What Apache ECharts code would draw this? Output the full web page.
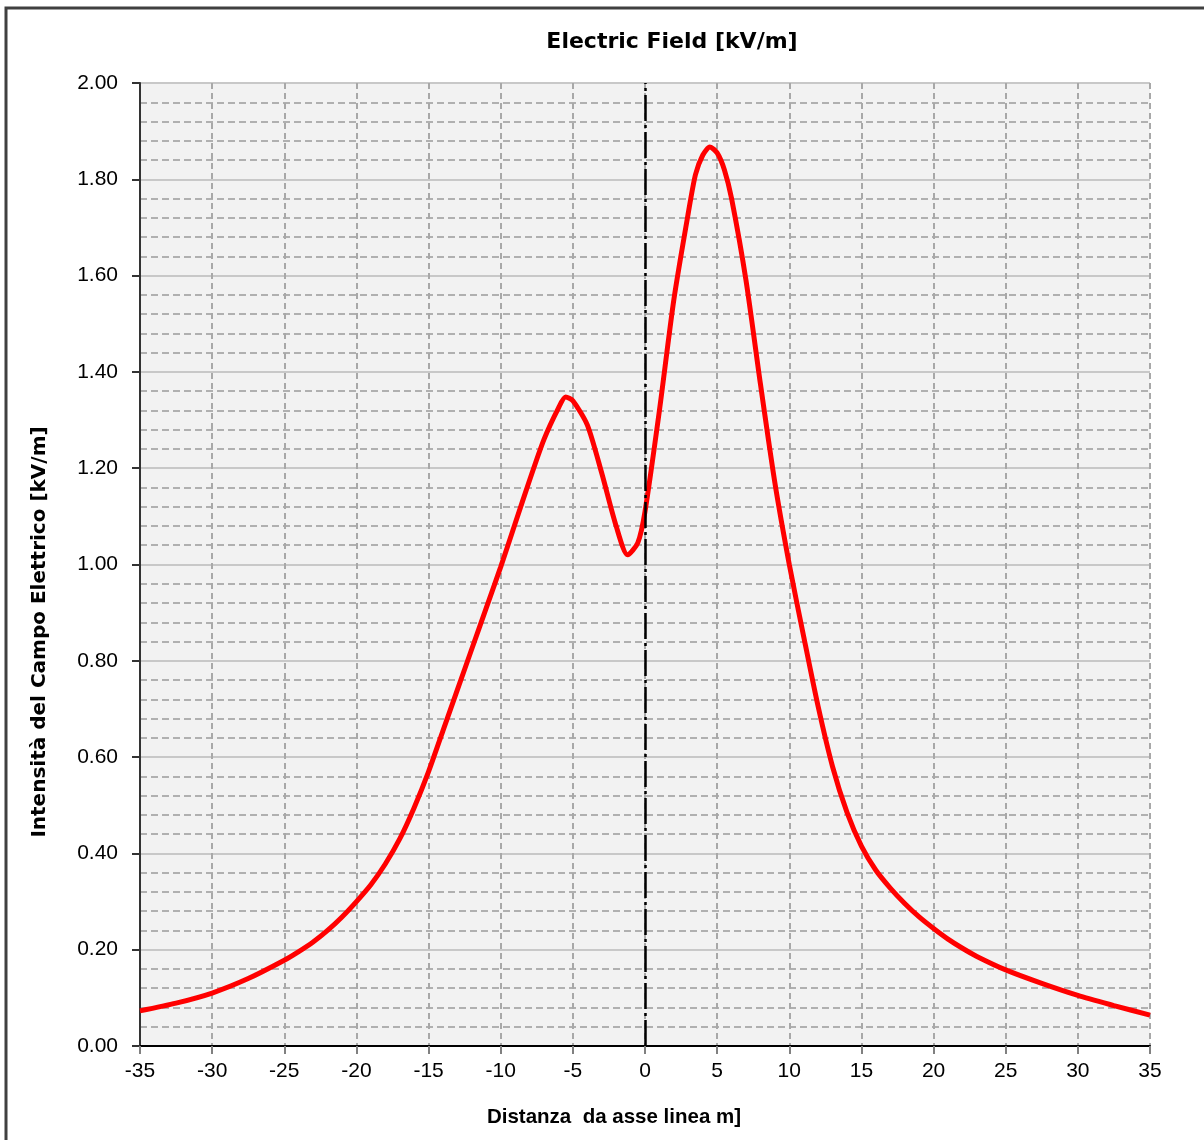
<!DOCTYPE html>
<html>
<head>
<meta charset="utf-8">
<script src="https://cdn.jsdelivr.net/npm/echarts@6/dist/echarts.min.js"></script>
<style>html,body{margin:0;padding:0;background:#fff;}#c{width:1204px;height:1140px;}</style>
</head>
<body>
<div id="c"></div>
<script>
const distances = [-35,-32.5,-30,-27.5,-25,-24,-23,-22,-21,-20,-19,-18,-17,-16,-15,-14,-13,-12,-11,-10,-9,-8,-7,-6,-5.5,-5,-4,-3,-2,-1.2,-0.5,0,1,2,3,3.5,4,4.5,5,5.5,6,7,8,9,10,11,12,13,14,15,16,17,18,19,20,21,22,23,25,27.5,30,32.5,35];
const field = [0.073,0.089,0.110,0.140,0.178,0.196,0.216,0.240,0.268,0.300,0.335,0.378,0.430,0.495,0.570,0.655,0.740,0.825,0.910,0.995,1.085,1.175,1.260,1.325,1.348,1.340,1.290,1.190,1.080,1.020,1.045,1.110,1.320,1.550,1.730,1.810,1.850,1.867,1.855,1.820,1.760,1.590,1.375,1.170,1.000,0.850,0.705,0.580,0.485,0.415,0.365,0.328,0.296,0.268,0.244,0.222,0.203,0.186,0.158,0.130,0.105,0.084,0.064];
const xTicks = {min:-35, max:35, step:5};
const yTicks = {min:0, max:2, step:0.2};

const labelFont = '"Liberation Sans", Arial, sans-serif';
const chart = echarts.init(document.getElementById('c'));
chart.setOption({
  animation:false,
  backgroundColor:'#ffffff',
  grid:{left:140,right:54,top:83,bottom:94,show:true,backgroundColor:'#f2f2f2',borderWidth:0},
  xAxis:{type:'value',min:xTicks.min,max:xTicks.max,interval:xTicks.step,
    axisLine:{onZero:false,lineStyle:{color:'#000',width:2}},
    axisTick:{show:true,length:8,lineStyle:{color:'#808080',width:2}},
    axisLabel:{color:'#000',fontSize:21,fontFamily:labelFont,margin:15},
    splitLine:{show:true,lineStyle:{color:'#a8a8a8',width:2,type:[6,4]}}
  },
  yAxis:{type:'value',min:yTicks.min,max:yTicks.max,interval:yTicks.step,
    axisLine:{show:true,onZero:false,lineStyle:{color:'#333',width:2}},
    axisTick:{show:true,length:8,lineStyle:{color:'#333',width:2}},
    axisLabel:{color:'#000',fontSize:21,fontFamily:labelFont,margin:22,formatter:v=>v.toFixed(2)},
    splitLine:{show:true,lineStyle:{color:'#c8c8c8',width:2}},
    minorTick:{show:false,splitNumber:5},
    minorSplitLine:{show:true,lineStyle:{color:'#9a9a9a',width:1.5,type:[7,4]}}
  },
  series:[{type:'line',data:distances.map((d,i)=>[d,field[i]]),smooth:0.25,showSymbol:false,
    lineStyle:{color:'#ff0000',width:5},
    markLine:{silent:true,symbol:'none',label:{show:false},
      lineStyle:{color:'#000',width:2.5,type:[26,4,3,4]},data:[{xAxis:0}]}
  }],
  graphic:[
    {type:'rect',shape:{x:6,y:8,width:1400,height:1400},style:{fill:'none',stroke:'#404040',lineWidth:3}},
    {type:'text',x:672,y:42,style:{text:'Electric Field [kV/m]',font:'bold 22px "DejaVu Sans", Verdana, sans-serif',fill:'#000',align:'center',verticalAlign:'middle'}},
    {type:'text',x:40,y:632,rotation:Math.PI/2,style:{text:'Intensità del Campo Elettrico [kV/m]',font:'bold 20px "DejaVu Sans", Verdana, sans-serif',fill:'#000',align:'center',verticalAlign:'middle'}},
    {type:'text',x:614,y:1117,style:{text:'Distanza  da asse linea m]',font:'bold 20.5px "Liberation Sans", Arial, sans-serif',fill:'#000',align:'center',verticalAlign:'middle'}}
  ]
});
</script>
</body>
</html>
